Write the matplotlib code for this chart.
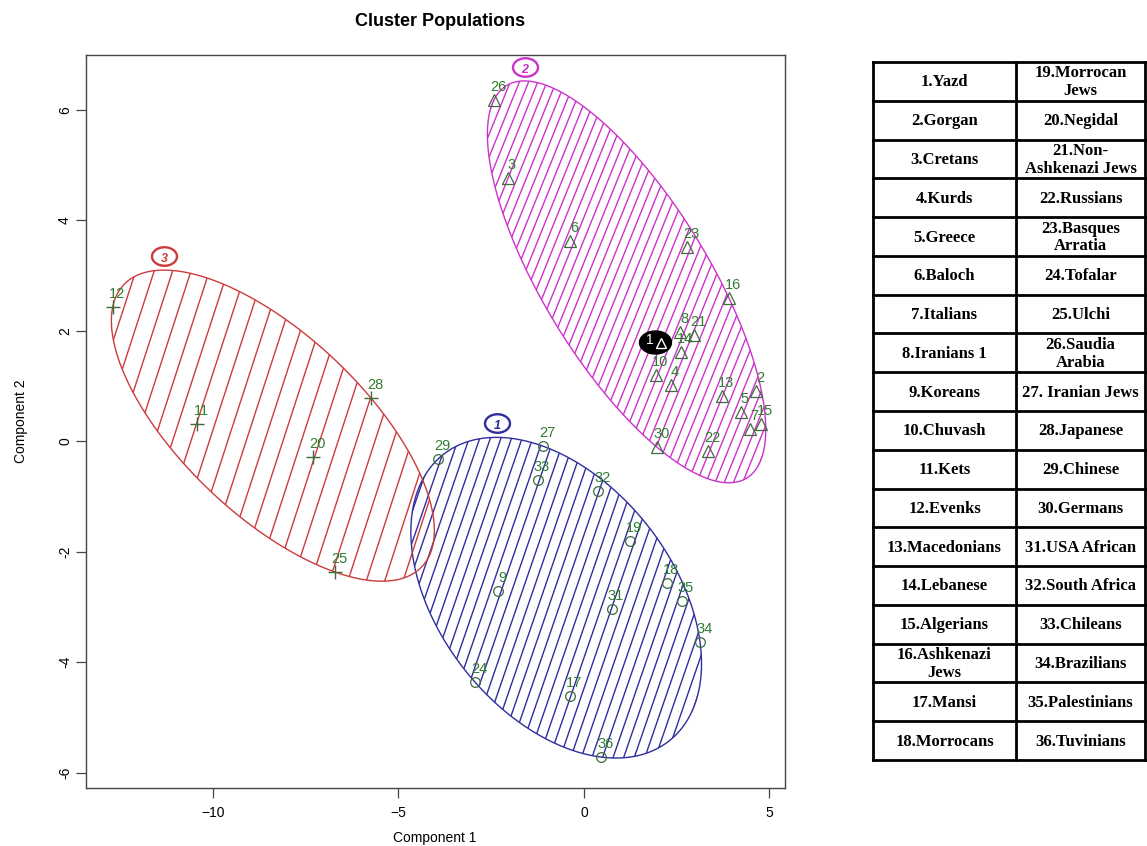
import numpy as np
import matplotlib
matplotlib.use("Agg")
import matplotlib.pyplot as plt
from matplotlib.patches import Polygon
from matplotlib.collections import LineCollection
from matplotlib.path import Path

# ---------------- data ----------------
point_ids = list(range(1, 37))
comp1 = [1.99, 4.64, -2.05, 2.34, 4.23, -0.38, 4.47, 2.59, -2.32, 1.94,
         -10.43, -12.70, 3.72, 2.61, 4.77, 3.91, -0.38, 2.24, 1.24, -7.30,
         2.96, 3.34, 2.78, -2.94, -6.71, -2.43, -1.11, -5.74, -3.94, 1.97,
         0.75, 0.38, -1.24, 3.13, 2.64, 0.46]
comp2 = [1.79, 0.90, 4.76, 1.01, 0.52, 3.62, 0.22, 1.97, -2.71, 1.19,
         0.31, 2.43, 0.81, 1.61, 0.31, 2.59, -4.62, -2.57, -1.81, -0.29,
         1.92, -0.18, 3.51, -4.36, -2.37, 6.17, -0.09, 0.78, -0.33, -0.11,
         -3.04, -0.90, -0.71, -3.64, -2.90, -5.72]
cluster = [2, 2, 2, 2, 2, 2, 2, 2, 1, 2,
           3, 3, 2, 2, 2, 2, 1, 1, 1, 3,
           2, 2, 2, 1, 3, 2, 1, 3, 1, 2,
           1, 1, 1, 1, 1, 1]
cluster_names = [1, 2, 3]
populations = ["1.Yazd", "2.Gorgan", "3.Cretans", "4.Kurds", "5.Greece", "6.Baloch",
               "7.Italians", "8.Iranians 1", "9.Koreans", "10.Chuvash", "11.Kets",
               "12.Evenks", "13.Macedonians", "14.Lebanese", "15.Algerians",
               "16.Ashkenazi\nJews", "17.Mansi", "18.Morrocans",
               "19.Morrocan\nJews", "20.Negidal", "21.Non-\nAshkenazi Jews",
               "22.Russians", "23.Basques\nArratia", "24.Tofalar", "25.Ulchi",
               "26.Saudia\nArabia", "27. Iranian Jews", "28.Japanese", "29.Chinese",
               "30.Germans", "31.USA African", "32.South Africa", "33.Chileans",
               "34.Brazilians", "35.Palestinians", "36.Tuvinians"]
x_ticks = [-10, -5, 0, 5]
y_ticks = [-6, -4, -2, 0, 2, 4, 6]

# ---------------- styles ----------------
clus_color = {1: "#2e2e9e", 2: "#cc33cc", 3: "#cc3b3b"}
clus_marker = {1: "o", 2: "^", 3: "+"}
hatch_gap = {1: 10.0, 2: 8.5, 3: 17.5}      # pixels between hatch lines
hatch_angle = {1: 71.0, 2: 68.0, 3: 72.0}   # degrees
label_col = "#2f7d2f"
mark_col = "#3d6b3d"

plt.rcParams["font.family"] = ["Liberation Sans", "DejaVu Sans"]

W, H = 1147, 846
fig = plt.figure(figsize=(W / 100, H / 100), dpi=100)
ax = fig.add_axes([86 / W, 1 - 788 / H, (785 - 86) / W, (788 - 55) / H])
ax.set_xlim(-13.42, 5.42)
ax.set_ylim(-6.28, 6.99)


def mvee(P, tol=1e-9, maxit=20000):
    """Minimum volume enclosing ellipse (Khachiyan)."""
    N, d = P.shape
    Q = np.vstack([P.T, np.ones(N)])
    u = np.ones(N) / N
    for _ in range(maxit):
        X = Q @ np.diag(u) @ Q.T
        M = np.einsum("ij,ji->i", Q.T @ np.linalg.inv(X), Q)
        j = np.argmax(M)
        mx = M[j]
        step = (mx - d - 1.0) / ((d + 1.0) * (mx - 1.0))
        nu = (1 - step) * u
        nu[j] += step
        err = np.linalg.norm(nu - u)
        u = nu
        if err < tol:
            break
    c = P.T @ u
    A = np.linalg.inv(P.T @ np.diag(u) @ P - np.outer(c, c)) / d
    return c, A


x = np.array(comp1)
y = np.array(comp2)
cl = np.array(cluster)
to_disp = ax.transData
to_data = ax.transData.inverted()

t = np.linspace(0, 2 * np.pi, 60)
wide_oval = Path(np.column_stack([np.cos(t), 0.74 * np.sin(t)]))
blob = Path(np.column_stack([np.cos(t), 0.72 * np.sin(t)]))

for k in cluster_names:
    m = cl == k
    P = np.column_stack([x[m], y[m]])
    c, A = mvee(P)
    vals, vecs = np.linalg.eigh(A)
    tt = np.linspace(0, 2 * np.pi, 400)
    circ = np.vstack([np.cos(tt), np.sin(tt)])
    E = (c[:, None] + vecs @ np.diag(1 / np.sqrt(vals)) @ circ).T
    poly = Polygon(E, closed=True, fill=False, edgecolor=clus_color[k], lw=1.0, zorder=2)
    ax.add_patch(poly)
    # hatch lines in display space
    Ed = to_disp.transform(E)
    ang = np.deg2rad(hatch_angle[k])
    dvec = np.array([np.cos(ang), np.sin(ang)])
    nvec = np.array([-np.sin(ang), np.cos(ang)])
    proj = Ed @ nvec
    segs = []
    ctr = Ed.mean(axis=0)
    L = 2000
    off = np.arange(proj.min(), proj.max(), hatch_gap[k])
    for o in off:
        base = ctr + (o - ctr @ nvec) * nvec
        p0 = to_data.transform(base - L * dvec)
        p1 = to_data.transform(base + L * dvec)
        segs.append([p0, p1])
    lc = LineCollection(segs, colors=clus_color[k], linewidths=1.0, zorder=2)
    lc.set_clip_path(poly)
    ax.add_collection(lc)
    # cluster label above ellipse top
    top = E[np.argmax(E[:, 1])]
    topd = to_disp.transform(top) + np.array([0, 14])
    tl = to_data.transform(topd)
    tl_txt = to_data.transform(topd + np.array([0, -1.5]))
    ax.plot(tl[0], tl[1], marker=wide_oval, ms=18, mfc="white", mec=clus_color[k],
            mew=1.7, ls="none", zorder=5)
    ax.text(tl_txt[0], tl_txt[1], str(k), color=clus_color[k], fontsize=9,
            fontweight="bold", style="italic", ha="center", va="center_baseline",
            zorder=6)

# points
for k in cluster_names:
    m = cl == k
    if clus_marker[k] == "+":
        ax.plot(x[m], y[m], ls="none", marker="+", ms=10, mew=1.0, color=mark_col, zorder=3)
    else:
        ax.plot(x[m], y[m], ls="none", marker=clus_marker[k], ms=7 if k == 1 else 8,
                mfc="none", mec=mark_col, mew=0.9, zorder=3)

# labels
for pid, xi, yi in zip(point_ids, x, y):
    if pid == 1:
        continue
    ax.annotate(str(pid), (xi, yi), xytext=(3, 9.5), textcoords="offset points",
                ha="center", va="center", color=label_col, fontsize=10.5, zorder=4)

# highlighted point 1
bd = to_disp.transform((x[0], y[0]))
bc = to_data.transform(bd + np.array([-3, 0]))
ax.plot(bc[0], bc[1], marker=blob, ms=23, color="black", ls="none", zorder=5)
ax.plot(*to_data.transform(bd + np.array([3, -1])), marker="^", ms=7, mfc="none",
        mec="white", mew=1.0, ls="none", zorder=6)
ax.text(*to_data.transform(bd + np.array([-8, 2])), "1", color="white", fontsize=10,
        ha="center", va="center", zorder=6)

# axes styling (R-like)
ax.set_xticks(x_ticks)
ax.set_yticks(y_ticks)
ax.set_xticklabels([("\u2212" + str(-v)) if v < 0 else str(v) for v in x_ticks], fontsize=10)
ax.set_yticklabels([("-" + str(-v)) if v < 0 else str(v) for v in y_ticks], fontsize=10,
                   rotation=90, va="center")
ax.tick_params(direction="out", length=7, width=0.9, color="#444444")
ax.tick_params(axis="x", pad=6)
ax.tick_params(axis="y", pad=3)
for s in ax.spines.values():
    s.set_color("#444444")
    s.set_linewidth(1.0)
fig.text(435 / W, 1 - 838 / H, "Component 1", ha="center", va="center", fontsize=10)
ax.set_ylabel("Component 2", fontsize=10, labelpad=22)
fig.text(440 / W, 1 - 22 / H, "Cluster Populations", ha="center", va="center",
         fontsize=13, fontweight="bold")

# table
tax = fig.add_axes([0, 0, 1, 1], facecolor="none")
tax.set_xlim(0, W)
tax.set_ylim(H, 0)
tax.axis("off")
tx0, tx1, tx2 = 873, 1016, 1145
ty0, ty1 = 62, 760
nrows = 18
rh = (ty1 - ty0) / nrows
for i in range(nrows + 1):
    yy = ty0 + i * rh
    tax.plot([tx0, tx2], [yy, yy], color="black", lw=2.0, solid_capstyle="projecting")
for xx in (tx0, tx1, tx2):
    tax.plot([xx, xx], [ty0, ty1], color="black", lw=2.0, solid_capstyle="projecting")
for i in range(nrows):
    yc = ty0 + (i + 0.5) * rh
    for col, (xa, xb) in enumerate([(tx0, tx1), (tx1, tx2)]):
        txt = populations[i + col * nrows]
        tax.text((xa + xb) / 2, yc + 1, txt, ha="center", va="center", fontsize=12,
                 fontweight="bold", family=["Liberation Serif", "DejaVu Serif"],
                 linespacing=1.15)

fig.savefig("out.png", dpi=100)
